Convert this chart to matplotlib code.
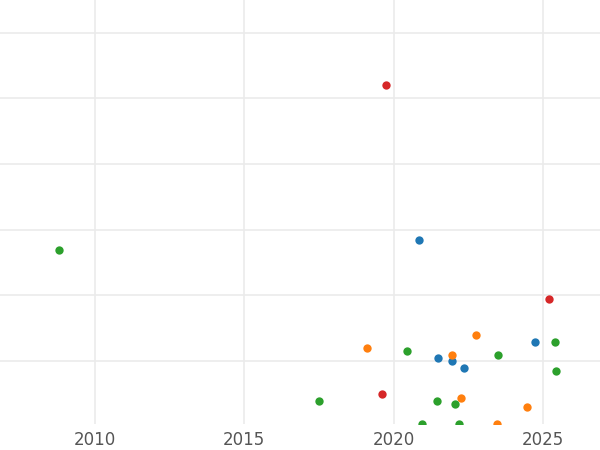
import matplotlib
matplotlib.use("Agg")
import matplotlib.pyplot as plt

# --- data ---
red_x = [2019.74, 2025.2, 2019.6]
red_y = [5.21, 1.95, 0.50]
blue_x = [2020.85, 2024.73, 2021.48, 2021.95, 2022.35]
blue_y = [2.84, 1.29, 1.05, 1.00, 0.89]
orange_x = [2019.1, 2022.75, 2021.95, 2022.25, 2024.46, 2023.46]
orange_y = [1.20, 1.40, 1.09, 0.44, 0.30, 0.04]
green_x = [2008.8, 2020.45, 2023.49, 2025.4, 2025.43, 2017.5, 2021.45, 2022.05, 2020.95, 2022.19]
green_y = [2.69, 1.15, 1.09, 1.29, 0.85, 0.39, 0.39, 0.34, 0.04, 0.04]
x_ticks = [2010, 2015, 2020, 2025]
y_grid = [1, 2, 3, 4, 5, 6]

fig = plt.figure(figsize=(6, 4.5), dpi=100)
ax = fig.add_axes([0, 26 / 450, 1, 424 / 450])

for xs, ys, c in [(blue_x, blue_y, "#1f77b4"), (orange_x, orange_y, "#ff7f0e"),
                  (green_x, green_y, "#2ca02c"), (red_x, red_y, "#d62728")]:
    ax.scatter(xs, ys, s=36, color=c, zorder=3, linewidths=0)

ax.set_xlim(2006.82, 2026.91)
ax.set_ylim(0.04, 6.5)
ax.set_xticks(x_ticks)
ax.set_yticks(y_grid)
ax.set_yticklabels([])
ax.grid(True, color="#ebebeb", linewidth=1.2)
ax.tick_params(length=0, labelsize=12, labelcolor="#555555", pad=5)
for s in ax.spines.values():
    s.set_visible(False)

fig.savefig("out.png", dpi=100)
